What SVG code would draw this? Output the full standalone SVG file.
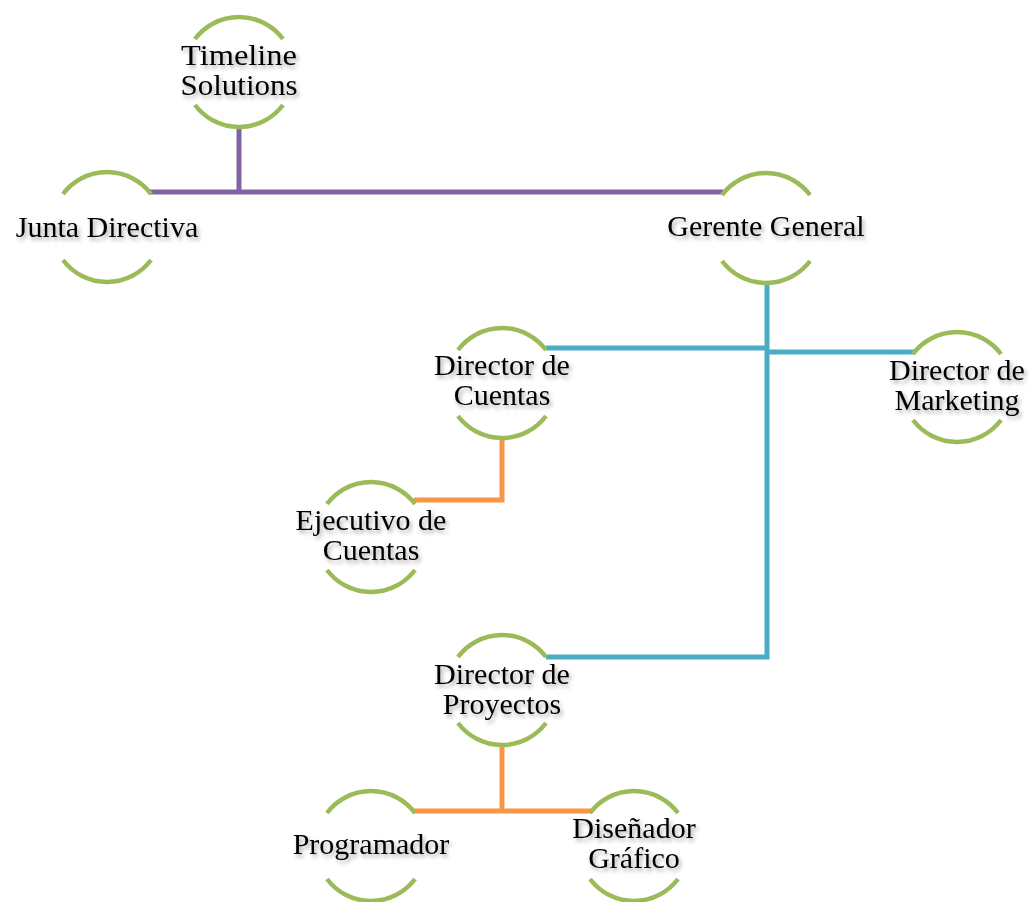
<svg xmlns="http://www.w3.org/2000/svg" xmlns:xlink="http://www.w3.org/1999/xlink" width="1031" height="902" viewBox="0 0 1031 902">
<style>
.ring{fill:none;stroke:#9BBB59;stroke-width:4.5;stroke-linecap:butt}
.lbl{font-family:"Liberation Serif","DejaVu Serif",serif;font-size:30px;fill:#000;text-anchor:middle;filter:url(#sh)}
.c{fill:none;stroke-width:5;stroke-linejoin:miter}
.p{stroke:#8064A2}
.b{stroke:#4BACC6}
.o{stroke:#F79646}
</style>
<defs>
<filter id="sh" x="-10%" y="-30%" width="130%" height="170%">
<feDropShadow dx="2" dy="3" stdDeviation="2" flood-color="#000" flood-opacity="0.35"/>
</filter>
<g id="ring">
<path class="ring" d="M-44,-33 A55,55 0 0 1 44,-33"/>
<path class="ring" d="M-44,33 A55,55 0 0 0 44,33"/>
</g>
</defs>
<rect width="1031" height="902" fill="#fff"/>
<g id="connectors">
<path class="c p" d="M239,126 V192"/>
<path class="c p" d="M150,192 H723"/>
<path class="c b" d="M767,283 V657 H546"/>
<path class="c b" d="M546,348 H767"/>
<path class="c b" d="M767,352 H914"/>
<path class="c o" d="M502,437 V500 H414"/>
<path class="c o" d="M502,744 V811"/>
<path class="c o" d="M414,811 H591"/>
</g>
<g id="n-timeline"><use xlink:href="#ring" x="239" y="72"/><text class="lbl" x="239" y="65" textLength="116" lengthAdjust="spacingAndGlyphs">Timeline</text><text class="lbl" x="239" y="95" textLength="117" lengthAdjust="spacingAndGlyphs">Solutions</text></g>
<g id="n-junta"><use xlink:href="#ring" x="107" y="227"/><text class="lbl" x="107" y="237">Junta Directiva</text></g>
<g id="n-gerente"><use xlink:href="#ring" x="766" y="228"/><text class="lbl" x="766" y="236">Gerente General</text></g>
<g id="n-dcuentas"><use xlink:href="#ring" x="502" y="383"/><text class="lbl" x="502" y="375">Director de</text><text class="lbl" x="502" y="405">Cuentas</text></g>
<g id="n-dmarketing"><use xlink:href="#ring" x="957" y="387"/><text class="lbl" x="957" y="380">Director de</text><text class="lbl" x="957" y="410">Marketing</text></g>
<g id="n-ejecutivo"><use xlink:href="#ring" x="371" y="537"/><text class="lbl" x="371" y="530">Ejecutivo de</text><text class="lbl" x="371" y="560">Cuentas</text></g>
<g id="n-dproyectos"><use xlink:href="#ring" x="502" y="690"/><text class="lbl" x="502" y="684">Director de</text><text class="lbl" x="502" y="714">Proyectos</text></g>
<g id="n-programador"><use xlink:href="#ring" x="371" y="846"/><text class="lbl" x="371" y="854">Programador</text></g>
<g id="n-disenador"><use xlink:href="#ring" x="634" y="846"/><text class="lbl" x="634" y="838">Diseñador</text><text class="lbl" x="634" y="868">Gráfico</text></g>
</svg>
